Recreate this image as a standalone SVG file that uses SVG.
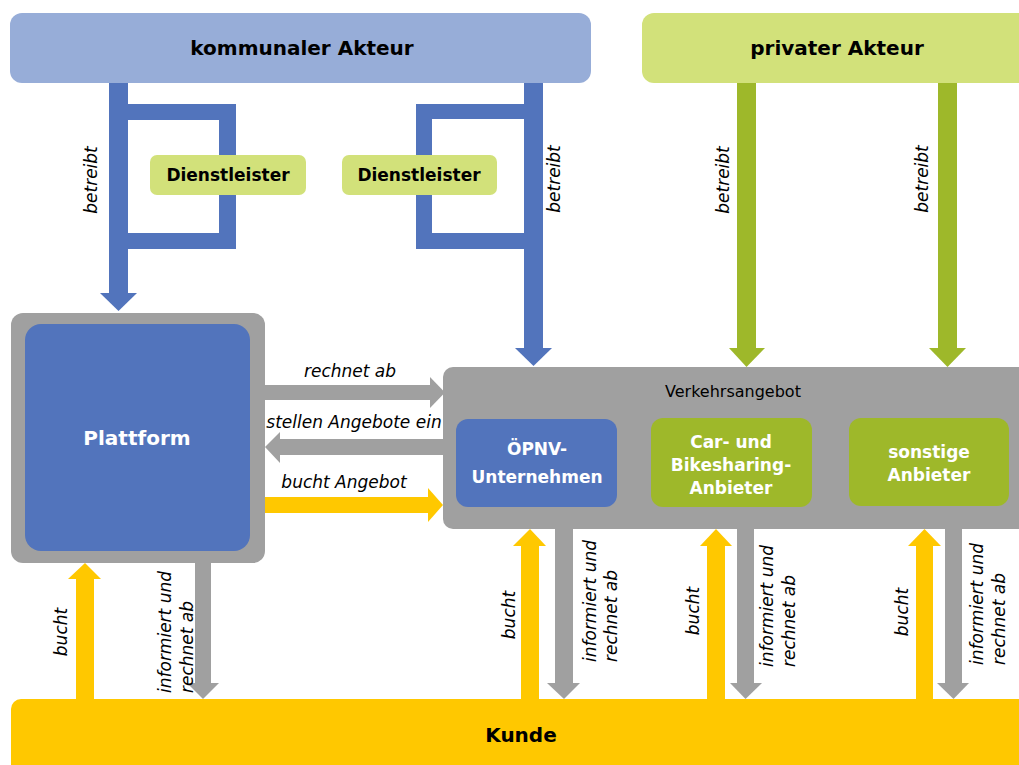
<svg xmlns="http://www.w3.org/2000/svg" width="1019" height="765" viewBox="0 0 1019 765">
<style>
.t{font-family:"DejaVu Sans","Liberation Sans",sans-serif}
.b{font-weight:bold}
.lbl{font-family:"DejaVu Sans","Liberation Sans",sans-serif;font-style:italic;font-size:17px;fill:#000}
.blue{fill:#5274BC}
.green{fill:#9EB82A}
.gray{fill:#A0A0A0}
.yel{fill:#FFC800}
.lgreen{fill:#D2E17A}
</style>
<rect width="1019" height="765" fill="#fff"/>

<g id="connectors">
  <!-- kommunal left trunk with bracket -->
  <rect class="blue" x="109" y="83" width="19" height="211"/>
  <polygon class="blue" points="100,293 137,293 118.5,311"/>
  <rect class="blue" x="128" y="104" width="108" height="16"/>
  <rect class="blue" x="219" y="104" width="17" height="145"/>
  <rect class="blue" x="128" y="233" width="108" height="16"/>
  <!-- kommunal right trunk with bracket -->
  <rect class="blue" x="524" y="83" width="19" height="266"/>
  <polygon class="blue" points="515,348 552,348 533.5,366"/>
  <rect class="blue" x="416" y="104" width="108" height="15"/>
  <rect class="blue" x="416" y="104" width="16" height="145"/>
  <rect class="blue" x="416" y="233" width="108" height="16"/>
  <!-- privat arrows -->
  <rect class="green" x="737" y="83" width="19" height="266"/>
  <polygon class="green" points="729,348 765,348 746.5,367"/>
  <rect class="green" x="938" y="83" width="19" height="266"/>
  <polygon class="green" points="929,348 966,348 947.5,367"/>
  <!-- horizontal arrows -->
  <rect class="gray" x="264" y="385" width="167" height="15"/>
  <polygon class="gray" points="430,377 445,392.5 430,408"/>
  <rect class="gray" x="279" y="439" width="165" height="16"/>
  <polygon class="gray" points="280,432 265,447 280,463"/>
  <rect class="yel" x="264" y="497" width="165" height="16"/>
  <polygon class="yel" points="428,488 443,505 428,522"/>
  <!-- bottom arrows -->
  <rect class="yel" x="76" y="578" width="18" height="123"/>
  <polygon class="yel" points="68,579 85,563 101,579"/>
  <rect class="gray" x="195" y="562" width="16" height="122"/>
  <polygon class="gray" points="187,683 203,699 219,683"/>
  <rect class="yel" x="521" y="545" width="18" height="156"/>
  <polygon class="yel" points="513,546 530,529 546,546"/>
  <rect class="gray" x="555" y="528" width="18" height="156"/>
  <polygon class="gray" points="547,683 564,699 580,683"/>
  <rect class="yel" x="707" y="545" width="18" height="156"/>
  <polygon class="yel" points="700,546 716,529 732,546"/>
  <rect class="gray" x="737" y="528" width="17" height="156"/>
  <polygon class="gray" points="730,683 745.5,699 762,683"/>
  <rect class="yel" x="916" y="545" width="17" height="156"/>
  <polygon class="yel" points="908,546 924.5,529 941,546"/>
  <rect class="gray" x="945" y="528" width="17" height="156"/>
  <polygon class="gray" points="937,683 953.5,699 969,683"/>
  <!-- labels -->
  <text class="lbl" text-anchor="middle" transform="translate(97,180) rotate(-90)">betreibt</text>
  <text class="lbl" text-anchor="middle" transform="translate(560,179) rotate(-90)">betreibt</text>
  <text class="lbl" text-anchor="middle" transform="translate(729,180) rotate(-90)">betreibt</text>
  <text class="lbl" text-anchor="middle" transform="translate(928,179) rotate(-90)">betreibt</text>
  <text class="lbl" x="350" y="377" text-anchor="middle">rechnet ab</text>
  <text class="lbl" x="354" y="428" text-anchor="middle">stellen Angebote ein</text>
  <text class="lbl" x="344" y="488" text-anchor="middle">bucht Angebot</text>
  <text class="lbl" text-anchor="middle" transform="translate(67,632) rotate(-90)">bucht</text>
  <text class="lbl" text-anchor="middle" transform="translate(515,615) rotate(-90)">bucht</text>
  <text class="lbl" text-anchor="middle" transform="translate(699,611) rotate(-90)">bucht</text>
  <text class="lbl" text-anchor="middle" transform="translate(908,612) rotate(-90)">bucht</text>
  <text class="lbl" transform="translate(171,693) rotate(-90)">informiert und<tspan x="0" y="22">rechnet ab</tspan></text>
  <text class="lbl" transform="translate(596,662) rotate(-90)">informiert und<tspan x="0" y="21">rechnet ab</tspan></text>
  <text class="lbl" transform="translate(773,667) rotate(-90)">informiert und<tspan x="0" y="22">rechnet ab</tspan></text>
  <text class="lbl" transform="translate(983,665) rotate(-90)">informiert und<tspan x="0" y="22">rechnet ab</tspan></text>
</g>

<g id="kommunal">
  <rect x="10" y="13" width="581" height="70" rx="12" fill="#97ADD8"/>
  <text class="t b" x="302" y="55" font-size="20" text-anchor="middle" fill="#000">kommunaler Akteur</text>
</g>
<g id="privat">
  <rect x="642" y="13" width="400" height="70" rx="12" fill="#D2E17A"/>
  <text class="t b" x="837" y="55" font-size="20" text-anchor="middle" fill="#000">privater Akteur</text>
</g>
<g id="dienstleister1">
  <rect class="lgreen" x="150" y="155" width="156" height="40" rx="7"/>
  <text class="t b" x="228" y="181" font-size="17" text-anchor="middle" fill="#000">Dienstleister</text>
</g>
<g id="dienstleister2">
  <rect class="lgreen" x="342" y="155" width="155" height="40" rx="7"/>
  <text class="t b" x="419" y="181" font-size="17" text-anchor="middle" fill="#000">Dienstleister</text>
</g>
<g id="plattform">
  <rect class="gray" x="11" y="313" width="254" height="250" rx="12"/>
  <rect class="blue" x="25" y="324" width="225" height="227" rx="16"/>
  <text class="t b" x="137" y="445" font-size="20" text-anchor="middle" fill="#fff">Plattform</text>
</g>
<g id="verkehrsangebot">
  <rect class="gray" x="443" y="367" width="600" height="162" rx="10"/>
  <text class="t" x="733" y="397" font-size="16" text-anchor="middle" fill="#000">Verkehrsangebot</text>
</g>
<g id="oepnv">
  <rect class="blue" x="456" y="419" width="161" height="88" rx="12"/>
  <text class="t b" x="537" y="455" font-size="17" text-anchor="middle" fill="#fff">ÖPNV-<tspan x="537" y="483">Unternehmen</tspan></text>
</g>
<g id="sharing">
  <rect class="green" x="651" y="418" width="161" height="89" rx="12"/>
  <text class="t b" x="731" y="448" font-size="17" text-anchor="middle" fill="#fff">Car- und<tspan x="731" y="471">Bikesharing-</tspan><tspan x="731" y="494">Anbieter</tspan></text>
</g>
<g id="sonstige">
  <rect class="green" x="849" y="418" width="160" height="88" rx="12"/>
  <text class="t b" x="929" y="458" font-size="17" text-anchor="middle" fill="#fff">sonstige<tspan x="929" y="481">Anbieter</tspan></text>
</g>
<g id="kunde">
  <rect class="yel" x="11" y="699" width="1030" height="80" rx="10"/>
  <text class="t b" x="521" y="742" font-size="20" text-anchor="middle" fill="#000">Kunde</text>
</g>
</svg>
